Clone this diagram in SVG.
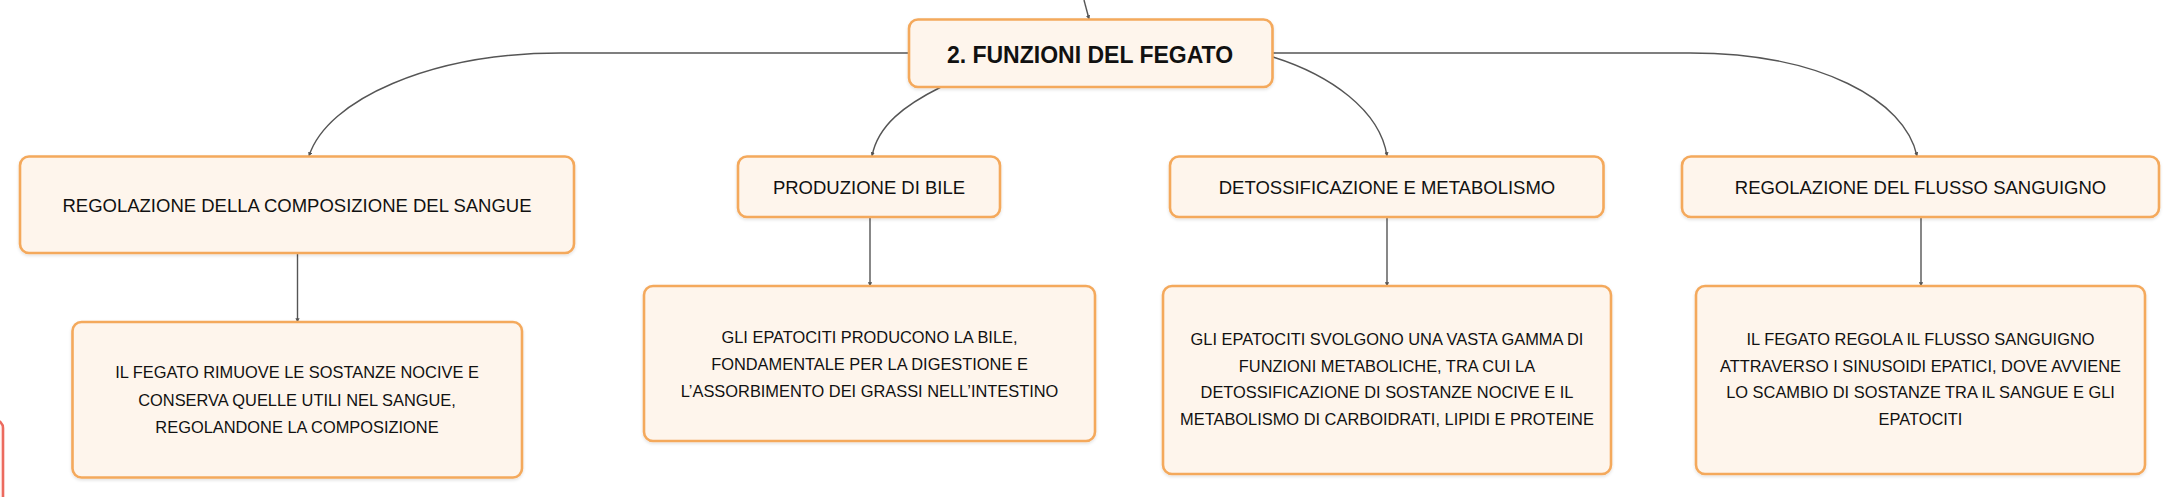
<svg xmlns="http://www.w3.org/2000/svg" width="2181" height="497" viewBox="0 0 2181 497">
<style>
  .box { fill: #FEF5EC; stroke: #F4A95C; stroke-width: 2.6; }
  .red { fill: #FFF7F5; stroke: #EC6A5E; stroke-width: 2.6; }
  .lbl { font-family: "Liberation Sans", Arial, sans-serif; font-size: 18.5px; fill: #111; text-anchor: middle; }
  .txt { font-family: "Liberation Sans", Arial, sans-serif; font-size: 16.4px; fill: #111; text-anchor: middle; }
  .title { font-family: "Liberation Sans", Arial, sans-serif; font-size: 23px; font-weight: bold; fill: #111; text-anchor: middle; }
  .conn { fill: none; stroke: #555; stroke-width: 1.4; }
</style>
<defs>
  <marker id="arr" viewBox="0 0 10 10" refX="9" refY="5" markerWidth="3" markerHeight="3" orient="auto">
    <path d="M0,0 L10,5 L0,10 z" fill="#555"/>
  </marker>
  <filter id="sh" x="-5%" y="-10%" width="110%" height="130%">
    <feDropShadow dx="0" dy="1.5" stdDeviation="1.5" flood-color="#000" flood-opacity="0.12"/>
  </filter>
</defs>
<rect width="2181" height="497" fill="#FFFFFF"/>

<g id="connectors">
  <path class="conn" d="M1084,0 L1089,19" marker-end="url(#arr)"/>
  <path class="conn" d="M909,53 L561,53 C430,53 327,100 309,156" marker-end="url(#arr)"/>
  <path class="conn" d="M941,87 C905,105 878,125 872,156" marker-end="url(#arr)"/>
  <path class="conn" d="M1273,57 C1330,75 1380,110 1387,156" marker-end="url(#arr)"/>
  <path class="conn" d="M1273,53 L1690,53 C1820,53 1905,100 1917,156" marker-end="url(#arr)"/>
  <path class="conn" d="M297.5,253 L297.5,322" marker-end="url(#arr)"/>
  <path class="conn" d="M870,217 L870,286" marker-end="url(#arr)"/>
  <path class="conn" d="M1387,217 L1387,286" marker-end="url(#arr)"/>
  <path class="conn" d="M1921,217 L1921,286" marker-end="url(#arr)"/>
</g>

<g id="offscreen-node">
  <rect class="red" x="-300" y="420" width="303" height="200" rx="8"/>
</g>

<g id="root">
  <rect class="box" x="909" y="19.5" width="363.5" height="67.5" rx="9" filter="url(#sh)"/>
  <text class="title" x="1090" y="62.5">2. FUNZIONI DEL FEGATO</text>
</g>

<g id="n1">
  <rect class="box" x="20" y="156.5" width="554" height="96.5" rx="9" filter="url(#sh)"/>
  <text class="lbl" x="297" y="211.5">REGOLAZIONE DELLA COMPOSIZIONE DEL SANGUE</text>
</g>
<g id="n2">
  <rect class="box" x="738" y="156.5" width="262" height="60.5" rx="9" filter="url(#sh)"/>
  <text class="lbl" x="869" y="193.5">PRODUZIONE DI BILE</text>
</g>
<g id="n3">
  <rect class="box" x="1170" y="156.5" width="433.5" height="60.5" rx="9" filter="url(#sh)"/>
  <text class="lbl" x="1387" y="193.5">DETOSSIFICAZIONE E METABOLISMO</text>
</g>
<g id="n4">
  <rect class="box" x="1682" y="156.5" width="477" height="60.5" rx="9" filter="url(#sh)"/>
  <text class="lbl" x="1920.5" y="193.5">REGOLAZIONE DEL FLUSSO SANGUIGNO</text>
</g>

<g id="d1">
  <rect class="box" x="72.5" y="322" width="449.5" height="155.5" rx="9" filter="url(#sh)"/>
  <text class="txt" x="297" y="378.3">IL FEGATO RIMUOVE LE SOSTANZE NOCIVE E</text>
  <text class="txt" x="297" y="405.8">CONSERVA QUELLE UTILI NEL SANGUE,</text>
  <text class="txt" x="297" y="433.3">REGOLANDONE LA COMPOSIZIONE</text>
</g>
<g id="d2">
  <rect class="box" x="644" y="286" width="451" height="155" rx="9" filter="url(#sh)"/>
  <text class="txt" x="869.5" y="343.3">GLI EPATOCITI PRODUCONO LA BILE,</text>
  <text class="txt" x="869.5" y="370">FONDAMENTALE PER LA DIGESTIONE E</text>
  <text class="txt" x="869.5" y="396.7">L’ASSORBIMENTO DEI GRASSI NELL’INTESTINO</text>
</g>
<g id="d3">
  <rect class="box" x="1163" y="286" width="448" height="188" rx="9" filter="url(#sh)"/>
  <text class="txt" x="1387" y="345">GLI EPATOCITI SVOLGONO UNA VASTA GAMMA DI</text>
  <text class="txt" x="1387" y="371.7">FUNZIONI METABOLICHE, TRA CUI LA</text>
  <text class="txt" x="1387" y="398.3">DETOSSIFICAZIONE DI SOSTANZE NOCIVE E IL</text>
  <text class="txt" x="1387" y="425">METABOLISMO DI CARBOIDRATI, LIPIDI E PROTEINE</text>
</g>
<g id="d4">
  <rect class="box" x="1696" y="286" width="449" height="188" rx="9" filter="url(#sh)"/>
  <text class="txt" x="1920.5" y="345">IL FEGATO REGOLA IL FLUSSO SANGUIGNO</text>
  <text class="txt" x="1920.5" y="371.7">ATTRAVERSO I SINUSOIDI EPATICI, DOVE AVVIENE</text>
  <text class="txt" x="1920.5" y="398.3">LO SCAMBIO DI SOSTANZE TRA IL SANGUE E GLI</text>
  <text class="txt" x="1920.5" y="425">EPATOCITI</text>
</g>
</svg>
